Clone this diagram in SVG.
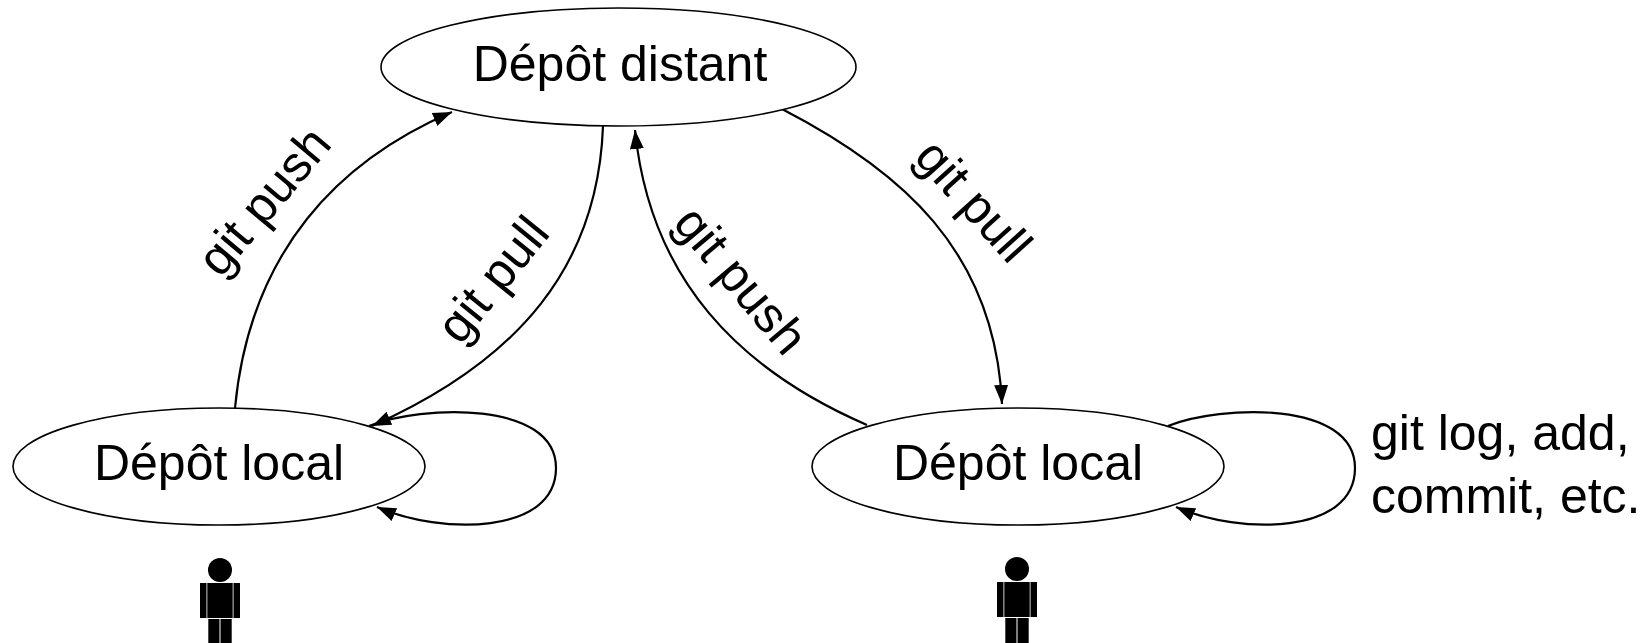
<svg xmlns="http://www.w3.org/2000/svg" xmlns:xlink="http://www.w3.org/1999/xlink" width="1648" height="643" viewBox="0 0 1648 643">
<style>
  .node { fill: #fff; stroke: #000; stroke-width: 1.6; }
  .lbl { font-family: "Liberation Sans", Arial, sans-serif; font-size: 50px; fill: #000; }
  .edge { fill: none; stroke: #000; stroke-width: 2.2; }
  .fig { fill: #000; }
</style>
<defs>
  <marker id="arrow" markerUnits="userSpaceOnUse" markerWidth="20" markerHeight="16" refX="19" refY="7" orient="auto">
    <path d="M0,0 L19,7 L0,14 Z" fill="#000"/>
  </marker>
  <g id="personShape">
    <circle cx="0" cy="0" r="12" class="fig"/>
    <rect x="-12.7" y="13" width="25.4" height="35" class="fig"/>
    <rect x="-20" y="13" width="6.5" height="35" class="fig"/>
    <rect x="13.5" y="13" width="6.5" height="35" class="fig"/>
    <rect x="-11.7" y="49" width="11.2" height="30" class="fig"/>
    <rect x="0.5" y="49" width="11.2" height="30" class="fig"/>
  </g>
</defs>
<rect width="1648" height="643" fill="#fff"/>

<g id="edges">
  <path id="e-push-left" class="edge" d="M235,408 C250,250 340,160 452,112" marker-end="url(#arrow)"/>
  <path id="e-pull-left" class="edge" d="M603,126 C598,265 520,360 372,426" marker-end="url(#arrow)"/>
  <path id="e-push-right" class="edge" d="M867,425 C740,370 650,280 635,130" marker-end="url(#arrow)"/>
  <path id="e-pull-right" class="edge" d="M782,109 C900,170 995,250 1002,404" marker-end="url(#arrow)"/>
  <path id="e-loop-left" class="edge" d="M369,426 C421,405 556,400 556,468 C556,535 441,535 377,507" marker-end="url(#arrow)"/>
  <path id="e-loop-right" class="edge" d="M1168,426 C1220,405 1355,400 1355,468 C1355,535 1240,535 1176,507" marker-end="url(#arrow)"/>
  <text class="lbl" text-anchor="middle" transform="translate(277,212) rotate(-50)">git push</text>
  <text class="lbl" text-anchor="middle" transform="translate(506,290) rotate(-51)">git pull</text>
  <text class="lbl" text-anchor="middle" transform="translate(728,291) rotate(50)">git push</text>
  <text class="lbl" text-anchor="middle" transform="translate(961,212) rotate(48)">git pull</text>
  <text class="lbl" x="1371" y="450">git log, add,</text>
  <text class="lbl" x="1371" y="513">commit, etc.</text>
</g>

<g id="remote">
  <ellipse class="node" cx="618.5" cy="67" rx="237.5" ry="59"/>
  <text class="lbl" x="620" y="81" text-anchor="middle">Dépôt distant</text>
</g>

<g id="local-left">
  <ellipse class="node" cx="219" cy="466.5" rx="206" ry="58.5"/>
  <text class="lbl" x="219" y="480" text-anchor="middle">Dépôt local</text>
</g>

<g id="local-right">
  <ellipse class="node" cx="1018" cy="466.5" rx="206" ry="58.5"/>
  <text class="lbl" x="1018" y="480" text-anchor="middle">Dépôt local</text>
</g>

<g id="user-left">
  <use xlink:href="#personShape" href="#personShape" transform="translate(220,570)"/>
</g>
<g id="user-right">
  <use xlink:href="#personShape" href="#personShape" transform="translate(1017,569)"/>
</g>
</svg>
